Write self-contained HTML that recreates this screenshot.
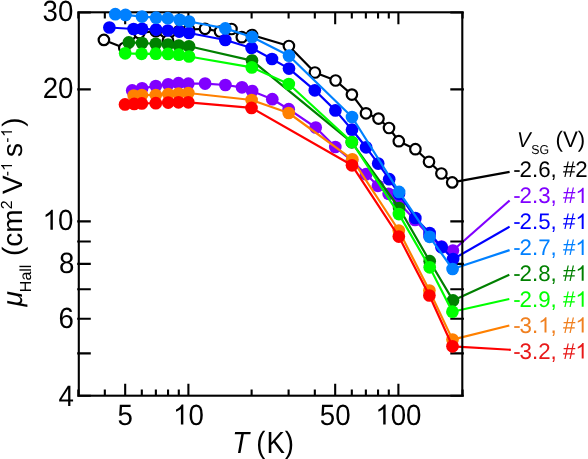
<!DOCTYPE html><html><head><meta charset="utf-8"><style>html,body{margin:0;padding:0;background:#fff;}svg{display:block;will-change:transform;}text{font-family:"Liberation Sans",sans-serif;text-rendering:geometricPrecision;}</style></head><body>
<svg width="588" height="459" viewBox="0 0 588 459">
<rect width="588" height="459" fill="#fff"/>
<line x1="452.2" y1="182.4" x2="509.6" y2="171.8" stroke="#000000" stroke-width="2.2"/>
<line x1="452.9" y1="250.5" x2="509.6" y2="200.5" stroke="#8000FF" stroke-width="2.2"/>
<line x1="453.1" y1="259.1" x2="509.6" y2="226.6" stroke="#0000FF" stroke-width="2.2"/>
<line x1="452.6" y1="269.0" x2="509.6" y2="250.1" stroke="#0080FF" stroke-width="2.2"/>
<line x1="453.0" y1="300.4" x2="509.3" y2="274.8" stroke="#008000" stroke-width="2.2"/>
<line x1="452.4" y1="311.7" x2="509.3" y2="299.0" stroke="#00FF00" stroke-width="2.2"/>
<line x1="452.5" y1="339.6" x2="509.3" y2="325.5" stroke="#FF8000" stroke-width="2.2"/>
<line x1="452.5" y1="346.3" x2="510.8" y2="349.8" stroke="#FF0000" stroke-width="2.2"/>
<rect x="78.8" y="12.3" width="383.50" height="383.40" fill="none" stroke="#000" stroke-width="2.1" stroke-linejoin="miter" stroke-linecap="square"/>
<path d="M78.30 395.7V389.40M78.30 12.3V18.60M104.83 395.7V389.40M104.83 12.3V18.60M125.18 395.7V383.70M125.18 12.3V24.30M141.81 395.7V389.40M141.81 12.3V18.60M155.87 395.7V389.40M155.87 12.3V18.60M168.05 395.7V389.40M168.05 12.3V18.60M178.79 395.7V389.40M178.79 12.3V18.60M188.40 395.7V383.70M188.40 12.3V24.30M251.62 395.7V389.40M251.62 12.3V18.60M288.60 395.7V389.40M288.60 12.3V18.60M314.83 395.7V389.40M314.83 12.3V18.60M335.18 395.7V383.70M335.18 12.3V24.30M351.81 395.7V389.40M351.81 12.3V18.60M365.87 395.7V389.40M365.87 12.3V18.60M378.05 395.7V389.40M378.05 12.3V18.60M388.79 395.7V389.40M388.79 12.3V18.60M398.40 395.7V383.70M398.40 12.3V24.30M462.60 395.7V389.40M462.60 12.3V18.60M77.20 395.80H90.80M463.90 395.80H450.30M77.20 353.40H90.80M463.90 353.40H450.30M77.20 318.68H90.80M463.90 318.68H450.30M77.20 289.32H90.80M463.90 289.32H450.30M77.20 263.90H90.80M463.90 263.90H450.30M77.20 241.46H90.80M463.90 241.46H450.30M77.20 221.40H90.80M463.90 221.40H450.30M77.20 89.40H90.80M463.90 89.40H450.30M77.20 12.50H90.80M463.90 12.50H450.30" stroke="#000" stroke-width="2.1" fill="none"/>
<path d="M103.9 39.9 L124.3 48.0 L139.3 33.0 L155.8 31.2 L168.0 40.5 L179.0 31.0 L189.0 29.5 L205.0 28.8 L220.0 31.5 L231.5 29.0 L241.8 37.2 L252.0 35.0 L288.9 46.0 L314.9 72.5 L335.6 80.5 L351.9 94.6 L366.0 113.3 L378.5 118.6 L389.0 128.0 L398.8 141.2 L415.4 149.2 L429.0 161.8 L441.4 173.5 L452.2 182.4" stroke="#000000" stroke-width="2.2" fill="none" stroke-linejoin="round"/>
<circle cx="103.9" cy="39.9" r="5.25" fill="#fff" stroke="#000" stroke-width="2.2"/>
<circle cx="124.3" cy="48.0" r="5.25" fill="#fff" stroke="#000" stroke-width="2.2"/>
<circle cx="139.3" cy="33.0" r="5.25" fill="#fff" stroke="#000" stroke-width="2.2"/>
<circle cx="155.8" cy="31.2" r="5.25" fill="#fff" stroke="#000" stroke-width="2.2"/>
<circle cx="168.0" cy="40.5" r="5.25" fill="#fff" stroke="#000" stroke-width="2.2"/>
<circle cx="179.0" cy="31.0" r="5.25" fill="#fff" stroke="#000" stroke-width="2.2"/>
<circle cx="189.0" cy="29.5" r="5.25" fill="#fff" stroke="#000" stroke-width="2.2"/>
<circle cx="205.0" cy="28.8" r="5.25" fill="#fff" stroke="#000" stroke-width="2.2"/>
<circle cx="220.0" cy="31.5" r="5.25" fill="#fff" stroke="#000" stroke-width="2.2"/>
<circle cx="231.5" cy="29.0" r="5.25" fill="#fff" stroke="#000" stroke-width="2.2"/>
<circle cx="241.8" cy="37.2" r="5.25" fill="#fff" stroke="#000" stroke-width="2.2"/>
<circle cx="252.0" cy="35.0" r="5.25" fill="#fff" stroke="#000" stroke-width="2.2"/>
<circle cx="288.9" cy="46.0" r="5.25" fill="#fff" stroke="#000" stroke-width="2.2"/>
<circle cx="314.9" cy="72.5" r="5.25" fill="#fff" stroke="#000" stroke-width="2.2"/>
<circle cx="335.6" cy="80.5" r="5.25" fill="#fff" stroke="#000" stroke-width="2.2"/>
<circle cx="351.9" cy="94.6" r="5.25" fill="#fff" stroke="#000" stroke-width="2.2"/>
<circle cx="366.0" cy="113.3" r="5.25" fill="#fff" stroke="#000" stroke-width="2.2"/>
<circle cx="378.5" cy="118.6" r="5.25" fill="#fff" stroke="#000" stroke-width="2.2"/>
<circle cx="389.0" cy="128.0" r="5.25" fill="#fff" stroke="#000" stroke-width="2.2"/>
<circle cx="398.8" cy="141.2" r="5.25" fill="#fff" stroke="#000" stroke-width="2.2"/>
<circle cx="415.4" cy="149.2" r="5.25" fill="#fff" stroke="#000" stroke-width="2.2"/>
<circle cx="429.0" cy="161.8" r="5.25" fill="#fff" stroke="#000" stroke-width="2.2"/>
<circle cx="441.4" cy="173.5" r="5.25" fill="#fff" stroke="#000" stroke-width="2.2"/>
<circle cx="452.2" cy="182.4" r="5.25" fill="#fff" stroke="#000" stroke-width="2.2"/>
<path d="M132.2 90.4 L142.1 88.3 L155.8 86.0 L168.2 84.3 L178.5 83.2 L188.3 83.7 L205.1 83.6 L225.4 85.0 L242.0 87.3 L252.1 91.1 L272.3 99.2 L288.7 109.2 L315.7 127.5 L335.3 147.0 L352.0 161.0 L366.1 174.2 L377.9 185.8 L388.6 193.8 L399.0 203.0 L415.0 220.0 L429.5 236.0 L441.5 246.5 L452.9 250.5" stroke="#8000FF" stroke-width="2.2" fill="none" stroke-linejoin="round"/>
<circle cx="132.2" cy="90.4" r="6.35" fill="#8000FF"/>
<circle cx="142.1" cy="88.3" r="6.35" fill="#8000FF"/>
<circle cx="155.8" cy="86.0" r="6.35" fill="#8000FF"/>
<circle cx="168.2" cy="84.3" r="6.35" fill="#8000FF"/>
<circle cx="178.5" cy="83.2" r="6.35" fill="#8000FF"/>
<circle cx="188.3" cy="83.7" r="6.35" fill="#8000FF"/>
<circle cx="205.1" cy="83.6" r="6.35" fill="#8000FF"/>
<circle cx="225.4" cy="85.0" r="6.35" fill="#8000FF"/>
<circle cx="242.0" cy="87.3" r="6.35" fill="#8000FF"/>
<circle cx="252.1" cy="91.1" r="6.35" fill="#8000FF"/>
<circle cx="272.3" cy="99.2" r="6.35" fill="#8000FF"/>
<circle cx="288.7" cy="109.2" r="6.35" fill="#8000FF"/>
<circle cx="315.7" cy="127.5" r="6.35" fill="#8000FF"/>
<circle cx="335.3" cy="147.0" r="6.35" fill="#8000FF"/>
<circle cx="352.0" cy="161.0" r="6.35" fill="#8000FF"/>
<circle cx="366.1" cy="174.2" r="6.35" fill="#8000FF"/>
<circle cx="377.9" cy="185.8" r="6.35" fill="#8000FF"/>
<circle cx="388.6" cy="193.8" r="6.35" fill="#8000FF"/>
<circle cx="399.0" cy="203.0" r="6.35" fill="#8000FF"/>
<circle cx="415.0" cy="220.0" r="6.35" fill="#8000FF"/>
<circle cx="429.5" cy="236.0" r="6.35" fill="#8000FF"/>
<circle cx="441.5" cy="246.5" r="6.35" fill="#8000FF"/>
<circle cx="452.9" cy="250.5" r="6.35" fill="#8000FF"/>
<path d="M109.4 27.5 L133.6 29.0 L142.1 28.8 L156.1 29.6 L167.8 30.5 L179.3 31.6 L189.0 33.0 L225.3 40.0 L251.6 48.0 L272.0 59.0 L289.0 68.6 L314.8 90.3 L335.4 110.4 L352.0 129.7 L366.1 147.3 L378.2 163.6 L389.2 179.2 L399.0 193.8 L415.3 218.0 L429.6 233.0 L441.6 247.2 L453.1 259.1" stroke="#0000FF" stroke-width="2.2" fill="none" stroke-linejoin="round"/>
<circle cx="109.4" cy="27.5" r="6.35" fill="#0000FF"/>
<circle cx="133.6" cy="29.0" r="6.35" fill="#0000FF"/>
<circle cx="142.1" cy="28.8" r="6.35" fill="#0000FF"/>
<circle cx="156.1" cy="29.6" r="6.35" fill="#0000FF"/>
<circle cx="167.8" cy="30.5" r="6.35" fill="#0000FF"/>
<circle cx="179.3" cy="31.6" r="6.35" fill="#0000FF"/>
<circle cx="189.0" cy="33.0" r="6.35" fill="#0000FF"/>
<circle cx="225.3" cy="40.0" r="6.35" fill="#0000FF"/>
<circle cx="251.6" cy="48.0" r="6.35" fill="#0000FF"/>
<circle cx="272.0" cy="59.0" r="6.35" fill="#0000FF"/>
<circle cx="289.0" cy="68.6" r="6.35" fill="#0000FF"/>
<circle cx="314.8" cy="90.3" r="6.35" fill="#0000FF"/>
<circle cx="335.4" cy="110.4" r="6.35" fill="#0000FF"/>
<circle cx="352.0" cy="129.7" r="6.35" fill="#0000FF"/>
<circle cx="366.1" cy="147.3" r="6.35" fill="#0000FF"/>
<circle cx="378.2" cy="163.6" r="6.35" fill="#0000FF"/>
<circle cx="389.2" cy="179.2" r="6.35" fill="#0000FF"/>
<circle cx="399.0" cy="193.8" r="6.35" fill="#0000FF"/>
<circle cx="415.3" cy="218.0" r="6.35" fill="#0000FF"/>
<circle cx="429.6" cy="233.0" r="6.35" fill="#0000FF"/>
<circle cx="441.6" cy="247.2" r="6.35" fill="#0000FF"/>
<circle cx="453.1" cy="259.1" r="6.35" fill="#0000FF"/>
<path d="M115.3 14.2 L125.5 14.9 L142.0 16.6 L156.1 17.7 L167.8 18.2 L179.6 19.8 L189.0 21.5 L225.3 28.4 L252.0 37.0 L289.0 55.7 L352.0 117.0 L399.1 191.9 L429.6 236.8 L452.6 269.0" stroke="#0080FF" stroke-width="2.2" fill="none" stroke-linejoin="round"/>
<circle cx="115.3" cy="14.2" r="6.35" fill="#0080FF"/>
<circle cx="125.5" cy="14.9" r="6.35" fill="#0080FF"/>
<circle cx="142.0" cy="16.6" r="6.35" fill="#0080FF"/>
<circle cx="156.1" cy="17.7" r="6.35" fill="#0080FF"/>
<circle cx="167.8" cy="18.2" r="6.35" fill="#0080FF"/>
<circle cx="179.6" cy="19.8" r="6.35" fill="#0080FF"/>
<circle cx="189.0" cy="21.5" r="6.35" fill="#0080FF"/>
<circle cx="225.3" cy="28.4" r="6.35" fill="#0080FF"/>
<circle cx="252.0" cy="37.0" r="6.35" fill="#0080FF"/>
<circle cx="289.0" cy="55.7" r="6.35" fill="#0080FF"/>
<circle cx="352.0" cy="117.0" r="6.35" fill="#0080FF"/>
<circle cx="399.1" cy="191.9" r="6.35" fill="#0080FF"/>
<circle cx="429.6" cy="236.8" r="6.35" fill="#0080FF"/>
<circle cx="452.6" cy="269.0" r="6.35" fill="#0080FF"/>
<path d="M128.8 42.4 L142.0 43.0 L155.8 43.8 L168.0 44.5 L178.8 45.5 L189.0 46.3 L252.0 60.6 L351.8 142.3 L399.1 208.0 L429.7 261.2 L453.0 300.4" stroke="#008000" stroke-width="2.2" fill="none" stroke-linejoin="round"/>
<circle cx="128.8" cy="42.4" r="6.35" fill="#008000"/>
<circle cx="142.0" cy="43.0" r="6.35" fill="#008000"/>
<circle cx="155.8" cy="43.8" r="6.35" fill="#008000"/>
<circle cx="168.0" cy="44.5" r="6.35" fill="#008000"/>
<circle cx="178.8" cy="45.5" r="6.35" fill="#008000"/>
<circle cx="189.0" cy="46.3" r="6.35" fill="#008000"/>
<circle cx="252.0" cy="60.6" r="6.35" fill="#008000"/>
<circle cx="351.8" cy="142.3" r="6.35" fill="#008000"/>
<circle cx="399.1" cy="208.0" r="6.35" fill="#008000"/>
<circle cx="429.7" cy="261.2" r="6.35" fill="#008000"/>
<circle cx="453.0" cy="300.4" r="6.35" fill="#008000"/>
<path d="M125.2 53.3 L141.6 53.8 L155.8 53.7 L168.0 53.9 L178.8 54.7 L189.0 56.5 L251.8 67.4 L288.8 84.0 L351.8 142.0 L398.9 214.1 L429.7 267.3 L452.4 311.7" stroke="#00FF00" stroke-width="2.2" fill="none" stroke-linejoin="round"/>
<circle cx="125.2" cy="53.3" r="6.35" fill="#00FF00"/>
<circle cx="141.6" cy="53.8" r="6.35" fill="#00FF00"/>
<circle cx="155.8" cy="53.7" r="6.35" fill="#00FF00"/>
<circle cx="168.0" cy="53.9" r="6.35" fill="#00FF00"/>
<circle cx="178.8" cy="54.7" r="6.35" fill="#00FF00"/>
<circle cx="189.0" cy="56.5" r="6.35" fill="#00FF00"/>
<circle cx="251.8" cy="67.4" r="6.35" fill="#00FF00"/>
<circle cx="288.8" cy="84.0" r="6.35" fill="#00FF00"/>
<circle cx="351.8" cy="142.0" r="6.35" fill="#00FF00"/>
<circle cx="398.9" cy="214.1" r="6.35" fill="#00FF00"/>
<circle cx="429.7" cy="267.3" r="6.35" fill="#00FF00"/>
<circle cx="452.4" cy="311.7" r="6.35" fill="#00FF00"/>
<path d="M133.7 95.6 L141.9 95.1 L155.8 95.0 L168.3 94.1 L178.5 93.6 L188.3 93.0 L251.6 100.0 L288.7 113.0 L352.3 159.3 L398.8 230.5 L429.4 290.6 L452.5 339.6" stroke="#FF8000" stroke-width="2.2" fill="none" stroke-linejoin="round"/>
<circle cx="133.7" cy="95.6" r="6.35" fill="#FF8000"/>
<circle cx="141.9" cy="95.1" r="6.35" fill="#FF8000"/>
<circle cx="155.8" cy="95.0" r="6.35" fill="#FF8000"/>
<circle cx="168.3" cy="94.1" r="6.35" fill="#FF8000"/>
<circle cx="178.5" cy="93.6" r="6.35" fill="#FF8000"/>
<circle cx="188.3" cy="93.0" r="6.35" fill="#FF8000"/>
<circle cx="251.6" cy="100.0" r="6.35" fill="#FF8000"/>
<circle cx="288.7" cy="113.0" r="6.35" fill="#FF8000"/>
<circle cx="352.3" cy="159.3" r="6.35" fill="#FF8000"/>
<circle cx="398.8" cy="230.5" r="6.35" fill="#FF8000"/>
<circle cx="429.4" cy="290.6" r="6.35" fill="#FF8000"/>
<circle cx="452.5" cy="339.6" r="6.35" fill="#FF8000"/>
<path d="M125.0 104.4 L134.2 103.9 L141.8 103.4 L155.8 103.2 L168.2 102.6 L178.5 102.3 L188.3 102.3 L251.5 107.9 L352.0 165.3 L398.8 236.6 L429.4 295.5 L452.5 346.3" stroke="#FF0000" stroke-width="2.2" fill="none" stroke-linejoin="round"/>
<circle cx="125.0" cy="104.4" r="6.35" fill="#FF0000"/>
<circle cx="134.2" cy="103.9" r="6.35" fill="#FF0000"/>
<circle cx="141.8" cy="103.4" r="6.35" fill="#FF0000"/>
<circle cx="155.8" cy="103.2" r="6.35" fill="#FF0000"/>
<circle cx="168.2" cy="102.6" r="6.35" fill="#FF0000"/>
<circle cx="178.5" cy="102.3" r="6.35" fill="#FF0000"/>
<circle cx="188.3" cy="102.3" r="6.35" fill="#FF0000"/>
<circle cx="251.5" cy="107.9" r="6.35" fill="#FF0000"/>
<circle cx="352.0" cy="165.3" r="6.35" fill="#FF0000"/>
<circle cx="398.8" cy="236.6" r="6.35" fill="#FF0000"/>
<circle cx="429.4" cy="295.5" r="6.35" fill="#FF0000"/>
<circle cx="452.5" cy="346.3" r="6.35" fill="#FF0000"/>
<text transform="translate(42.54 20.95) scale(0.944 1)" font-size="29.3" fill="#000" xml:space="preserve">30</text>
<text transform="translate(42.74 97.65) scale(0.944 1)" font-size="29.3" fill="#000" xml:space="preserve">20</text>
<path d="M763 0L583 0L583 1147C540 1106 483 1064 413 1023C343 982 280 951 224 930L224 1104C325 1151 413 1209 488 1276C563 1343 616 1409 647 1472L763 1472Z" fill="#000" transform="translate(42.54 229.80) scale(0.01351 -0.01369)"/><text transform="translate(57.92 229.80) scale(0.944 1)" font-size="29.3" fill="#000" xml:space="preserve">0</text>
<text transform="translate(58.92 272.85) scale(0.944 1)" font-size="29.3" fill="#000" xml:space="preserve">8</text>
<text transform="translate(58.42 327.95) scale(0.944 1)" font-size="29.3" fill="#000" xml:space="preserve">6</text>
<text transform="translate(58.62 406.00) scale(0.944 1)" font-size="29.3" fill="#000" xml:space="preserve">4</text>
<text transform="translate(117.49 424.60) scale(0.944 1)" font-size="29.3" fill="#000" xml:space="preserve">5</text>
<path d="M763 0L583 0L583 1147C540 1106 483 1064 413 1023C343 982 280 951 224 930L224 1104C325 1151 413 1209 488 1276C563 1343 616 1409 647 1472L763 1472Z" fill="#000" transform="translate(173.02 424.60) scale(0.01351 -0.01369)"/><text transform="translate(188.40 424.60) scale(0.944 1)" font-size="29.3" fill="#000" xml:space="preserve">0</text>
<text transform="translate(319.81 424.60) scale(0.944 1)" font-size="29.3" fill="#000" xml:space="preserve">50</text>
<path d="M763 0L583 0L583 1147C540 1106 483 1064 413 1023C343 982 280 951 224 930L224 1104C325 1151 413 1209 488 1276C563 1343 616 1409 647 1472L763 1472Z" fill="#000" transform="translate(375.33 424.60) scale(0.01351 -0.01369)"/><text transform="translate(390.71 424.60) scale(0.944 1)" font-size="29.3" fill="#000" xml:space="preserve">00</text>
<text transform="translate(232.3 453.3) scale(0.9 1)" font-size="30.7" font-style="italic">T</text>
<text transform="translate(256.2 453.3) scale(0.9 1)" font-size="30.7">(</text>
<text transform="translate(266.4 453.3) scale(0.9 1)" font-size="30.7">K)</text>
<g transform="translate(22 306.5) rotate(-90)"><text font-size="28"><tspan font-style="italic">μ</tspan><tspan font-size="16" dx="-1" dy="8.9">Hall</tspan><tspan dx="0.8" dy="-8.9"> (cm</tspan><tspan font-size="16" dy="-10">2</tspan></text><text x="112.5" y="0" font-size="28">V</text><text x="130.2" y="-10" font-size="16">-</text><path d="M763 0L583 0L583 1147C540 1106 483 1064 413 1023C343 982 280 951 224 930L224 1104C325 1151 413 1209 488 1276C563 1343 616 1409 647 1472L763 1472Z" transform="translate(135.6 -10) scale(0.007812 -0.007477)"/><text x="149.4" y="0" font-size="28">s</text><text x="163.8" y="-10" font-size="16">-</text><path d="M763 0L583 0L583 1147C540 1106 483 1064 413 1023C343 982 280 951 224 930L224 1104C325 1151 413 1209 488 1276C563 1343 616 1409 647 1472L763 1472Z" transform="translate(169.4 -10) scale(0.007812 -0.007477)"/><text x="179.7" y="0" font-size="28">)</text></g>
<text transform="translate(517 147) scale(0.95 1)" font-size="21.5" font-style="italic">V</text>
<text transform="translate(531.2 154.3) scale(0.95 1)" font-size="13">SG</text>
<text transform="translate(555.6 147) scale(0.99 1)" font-size="22.5">(V)</text>
<text transform="translate(513.20 177.20) scale(0.99 1)" font-size="22.5" fill="#000000">-</text><text transform="translate(519.62 177.20) scale(0.99 1)" font-size="22.5" fill="#000000" xml:space="preserve">2.6, #2</text>
<text transform="translate(513.20 203.10) scale(0.99 1)" font-size="22.5" fill="#8000FF">-</text><text transform="translate(519.62 203.10) scale(0.99 1)" font-size="22.5" fill="#8000FF" xml:space="preserve">2.3, #</text><path d="M763 0L583 0L583 1147C540 1106 483 1064 413 1023C343 982 280 951 224 930L224 1104C325 1151 413 1209 488 1276C563 1343 616 1409 647 1472L763 1472Z" fill="#8000FF" transform="translate(575.35 203.10) scale(0.01088 -0.01051)"/>
<text transform="translate(513.20 229.00) scale(0.99 1)" font-size="22.5" fill="#0000FF">-</text><text transform="translate(519.62 229.00) scale(0.99 1)" font-size="22.5" fill="#0000FF" xml:space="preserve">2.5, #</text><path d="M763 0L583 0L583 1147C540 1106 483 1064 413 1023C343 982 280 951 224 930L224 1104C325 1151 413 1209 488 1276C563 1343 616 1409 647 1472L763 1472Z" fill="#0000FF" transform="translate(575.35 229.00) scale(0.01088 -0.01051)"/>
<text transform="translate(513.20 254.90) scale(0.99 1)" font-size="22.5" fill="#0080FF">-</text><text transform="translate(519.62 254.90) scale(0.99 1)" font-size="22.5" fill="#0080FF" xml:space="preserve">2.7, #</text><path d="M763 0L583 0L583 1147C540 1106 483 1064 413 1023C343 982 280 951 224 930L224 1104C325 1151 413 1209 488 1276C563 1343 616 1409 647 1472L763 1472Z" fill="#0080FF" transform="translate(575.35 254.90) scale(0.01088 -0.01051)"/>
<text transform="translate(513.20 280.80) scale(0.99 1)" font-size="22.5" fill="#008000">-</text><text transform="translate(519.62 280.80) scale(0.99 1)" font-size="22.5" fill="#008000" xml:space="preserve">2.8, #</text><path d="M763 0L583 0L583 1147C540 1106 483 1064 413 1023C343 982 280 951 224 930L224 1104C325 1151 413 1209 488 1276C563 1343 616 1409 647 1472L763 1472Z" fill="#008000" transform="translate(575.35 280.80) scale(0.01088 -0.01051)"/>
<text transform="translate(513.20 306.70) scale(0.99 1)" font-size="22.5" fill="#00FF00">-</text><text transform="translate(519.62 306.70) scale(0.99 1)" font-size="22.5" fill="#00FF00" xml:space="preserve">2.9, #</text><path d="M763 0L583 0L583 1147C540 1106 483 1064 413 1023C343 982 280 951 224 930L224 1104C325 1151 413 1209 488 1276C563 1343 616 1409 647 1472L763 1472Z" fill="#00FF00" transform="translate(575.35 306.70) scale(0.01088 -0.01051)"/>
<text transform="translate(513.20 332.60) scale(0.99 1)" font-size="22.5" fill="#F08020">-</text><text transform="translate(519.62 332.60) scale(0.99 1)" font-size="22.5" fill="#F08020" xml:space="preserve">3.</text><path d="M763 0L583 0L583 1147C540 1106 483 1064 413 1023C343 982 280 951 224 930L224 1104C325 1151 413 1209 488 1276C563 1343 616 1409 647 1472L763 1472Z" fill="#F08020" transform="translate(538.19 332.60) scale(0.01088 -0.01051)"/><text transform="translate(550.58 332.60) scale(0.99 1)" font-size="22.5" fill="#F08020" xml:space="preserve">, #</text><path d="M763 0L583 0L583 1147C540 1106 483 1064 413 1023C343 982 280 951 224 930L224 1104C325 1151 413 1209 488 1276C563 1343 616 1409 647 1472L763 1472Z" fill="#F08020" transform="translate(575.35 332.60) scale(0.01088 -0.01051)"/>
<text transform="translate(513.20 358.50) scale(0.99 1)" font-size="22.5" fill="#E81818">-</text><text transform="translate(519.62 358.50) scale(0.99 1)" font-size="22.5" fill="#E81818" xml:space="preserve">3.2, #</text><path d="M763 0L583 0L583 1147C540 1106 483 1064 413 1023C343 982 280 951 224 930L224 1104C325 1151 413 1209 488 1276C563 1343 616 1409 647 1472L763 1472Z" fill="#E81818" transform="translate(575.35 358.50) scale(0.01088 -0.01051)"/>
</svg></body></html>
